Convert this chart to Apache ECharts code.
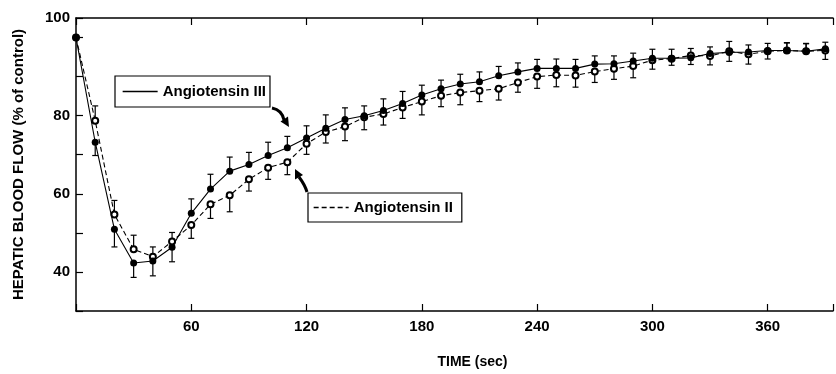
<!DOCTYPE html>
<html>
<head>
<meta charset="utf-8">
<script src="https://cdn.jsdelivr.net/npm/echarts@6/dist/echarts.min.js"></script>
<style>
  html, body { margin: 0; padding: 0; background: #fff; }
  #chart { width: 836px; height: 374px; }
</style>
</head>
<body>
<div id="chart"></div>
<script>
// time after injection (sec)
const times = [0, 10, 20, 30, 40, 50, 60, 70, 80, 90, 100, 110, 120, 130, 140, 150, 160, 170, 180, 190,
  200, 210, 220, 230, 240, 250, 260, 270, 280, 290, 300, 310, 320, 330, 340, 350, 360, 370, 380, 390]

// hepatic blood flow, % of control
const angIII = [100, 73.2, 50.9, 42.3, 42.8, 46.3, 55.0, 61.2, 65.8, 67.5, 69.8, 71.8, 74.3, 76.8, 79.0, 80.0,
  81.3, 83.1, 85.3, 86.9, 88.1, 88.7, 90.2, 91.2, 92.1, 92.1, 92.1, 93.2, 93.3, 94.0, 94.7, 94.7, 94.8, 95.9,
  96.2, 96.3, 96.7, 96.7, 96.5, 97.1]
const angII = [100, 78.7, 54.7, 45.8, 43.9, 47.8, 52.0, 57.3, 59.6, 63.7, 66.7, 68.1, 72.8, 75.8, 77.2, 79.6,
  80.4, 82.1, 83.6, 85.1, 85.9, 86.4, 86.9, 88.5, 90.0, 90.4, 90.3, 91.3, 92.0, 92.7, 94.2, 94.6, 95.4, 95.3,
  96.5, 95.7, 96.5, 96.7, 96.5, 96.7]

// error bar lengths (one-sided, drawn away from the other curve)
const semIII = [0, 3.4, 4.5, 3.7, 3.8, 3.7, 3.7, 3.8, 3.6, 3.1, 3.4, 2.9, 3.1, 3.4, 3.0, 2.5, 3.0, 3.1, 2.5, 2.2,
  2.5, 2.5, 2.4, 2.3, 2.3, 2.4, 2.3, 2.1, 2.0, 2.0, 2.3, 2.3, 1.7, 1.7, 2.3, 1.8, 1.8, 1.9, 2.0, 1.7]
const semII = [0, 3.8, 3.6, 3.6, 2.5, 2.3, 3.4, 3.6, 4.2, 3.0, 3.0, 3.2, 2.7, 2.8, 3.6, 3.2, 2.8, 2.8, 3.4, 2.8,
  3.1, 2.8, 2.9, 2.5, 3.0, 3.0, 3.0, 2.8, 2.7, 3.0, 2.3, 1.7, 1.8, 2.3, 2.5, 2.5, 2.0, 2.0, 1.9, 2.3]

const xTickLabels = [60, 120, 180, 240, 300, 360]
const yTickLabels = [40, 60, 80]
const yTopLabel = '100'

const FONT = '"Liberation Sans", Arial, Helvetica, sans-serif'

const pairs = (vals) => times.map((t, i) => [t, vals[i]])

function errData(vals, errs, other) {
  const out = []
  times.forEach((t, i) => {
    if (!errs[i]) return
    const dir = vals[i] >= other[i] ? 1 : -1
    out.push([t, vals[i], vals[i] + dir * errs[i]])
  })
  return out
}

function renderErr(params, api) {
  const p0 = api.coord([api.value(0), api.value(1)])
  const p1 = api.coord([api.value(0), api.value(2)])
  const style = { stroke: '#000', lineWidth: 1.2 }
  return {
    type: 'group',
    children: [
      { type: 'line', shape: { x1: p0[0], y1: p0[1], x2: p1[0], y2: p1[1] }, style },
      { type: 'line', shape: { x1: p1[0] - 3, y1: p1[1], x2: p1[0] + 3, y2: p1[1] }, style },
    ],
  }
}

const chart = echarts.init(document.getElementById('chart'))
chart.setOption({
  animation: false,
  backgroundColor: '#fff',
  textStyle: { fontFamily: FONT, color: '#000' },
  grid: { left: 76, right: 0, top: 18, bottom: 63 },
  legend: [
    {
      data: ['Angiotensin III'],
      left: 115, top: 76,
      padding: [8, 4, 8, 7],
      itemWidth: 35, itemHeight: 14,
      borderColor: '#000', borderWidth: 1.2, borderRadius: 0,
      selectedMode: false,
      itemStyle: { opacity: 0 },
      lineStyle: { width: 1.3 },
      textStyle: { fontFamily: FONT, fontSize: 15, fontWeight: 'bold', color: '#000' },
    },
    {
      data: ['Angiotensin II'],
      left: 308, top: 193,
      padding: [7, 9, 7, 5],
      itemWidth: 35, itemHeight: 14,
      borderColor: '#000', borderWidth: 1.2, borderRadius: 0,
      selectedMode: false,
      itemStyle: { opacity: 0 },
      lineStyle: { width: 1.3 },
      textStyle: { fontFamily: FONT, fontSize: 15, fontWeight: 'bold', color: '#000' },
    },
  ],
  xAxis: [
    {
      type: 'value', min: 0, max: 394, interval: 60,
      name: 'TIME (sec)', nameLocation: 'middle', nameGap: 44,
      nameTextStyle: { fontFamily: FONT, fontSize: 14, fontWeight: 'bold', color: '#000', padding: [0, 0, 0, 36] },
      axisLine: { lineStyle: { color: '#000', width: 1.5 } },
      axisTick: { inside: true, length: 7, lineStyle: { color: '#000', width: 1.2 } },
      axisLabel: {
        margin: 8, fontFamily: FONT, fontSize: 15, fontWeight: 'bold', color: '#000',
        formatter: (v) => (xTickLabels.includes(v) ? String(v) : ''),
      },
      splitLine: { show: false },
    },
    {
      type: 'value', min: 0, max: 394, interval: 60, position: 'top',
      axisLine: { lineStyle: { color: '#000', width: 1.5 } },
      axisTick: { inside: true, length: 7, lineStyle: { color: '#000', width: 1.2 } },
      axisLabel: { show: false },
      splitLine: { show: false },
    },
  ],
  yAxis: {
    type: 'value', min: 30, max: 105, interval: 10,
    name: 'HEPATIC BLOOD FLOW (% of control)', nameLocation: 'middle', nameGap: 50, nameRotate: 90,
    nameTextStyle: { fontFamily: FONT, fontSize: 15, fontWeight: 'bold', color: '#000' },
    axisLine: { lineStyle: { color: '#000', width: 1.5 } },
    axisTick: { inside: true, length: 7, lineStyle: { color: '#000', width: 1.2 } },
    axisLabel: {
      margin: 6, fontFamily: FONT, fontSize: 15, fontWeight: 'bold', color: '#000',
      formatter: (v) => (v === 105 ? yTopLabel : yTickLabels.includes(v) ? String(v) : ''),
    },
    splitLine: { show: false },
  },
  series: [
    {
      type: 'custom', name: 'err III', renderItem: renderErr, z: 1,
      data: errData(angIII, semIII, angII),
    },
    {
      type: 'custom', name: 'err II', renderItem: renderErr, z: 1,
      data: errData(angII, semII, angIII),
    },
    {
      type: 'line', name: 'Angiotensin II', data: pairs(angII), z: 3,
      symbol: 'emptyCircle', symbolSize: 6,
      itemStyle: { color: '#000', borderColor: '#000', borderWidth: 1.1 },
      lineStyle: { color: '#000', width: 1.1, type: [5, 3] },
    },
    {
      type: 'line', name: 'Angiotensin III', data: pairs(angIII), z: 4,
      symbol: 'circle', symbolSize: 7,
      itemStyle: { color: '#000' },
      lineStyle: { color: '#000', width: 1.1 },
    },
  ],
  graphic: [
    { type: 'bezierCurve', shape: { x1: 272, y1: 108, cpx1: 282, cpy1: 110, x2: 284, y2: 120 }, style: { stroke: '#000', lineWidth: 3, fill: null } },
    { type: 'polygon', shape: { points: [[289, 127], [280.5, 121.5], [288, 116.5]] }, style: { fill: '#000' } },
    { type: 'bezierCurve', shape: { x1: 307, y1: 192, cpx1: 305, cpy1: 185, x2: 299, y2: 177 }, style: { stroke: '#000', lineWidth: 3, fill: null } },
    { type: 'polygon', shape: { points: [[295, 169], [303, 175], [295, 179.5]] }, style: { fill: '#000' } },
  ],
})
</script>
</body>
</html>
